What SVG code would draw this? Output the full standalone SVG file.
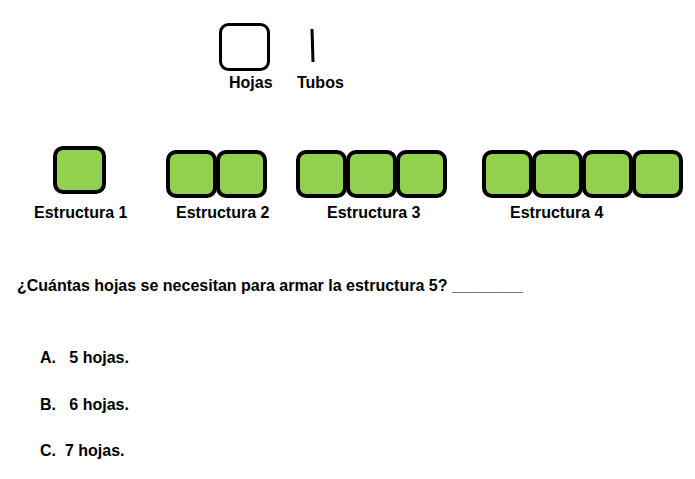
<svg xmlns="http://www.w3.org/2000/svg" width="695" height="479" viewBox="0 0 695 479">
<style>
text{font-family:"Liberation Sans",Arial,sans-serif;font-weight:bold;font-size:16px;fill:#000}
.leaf{fill:#92D050;stroke:#000;stroke-width:4}
</style>
<rect width="695" height="479" fill="#fff"/>
<g id="legend-hojas">
<rect x="220.5" y="24.5" width="48" height="45" rx="8" fill="#fff" stroke="#000" stroke-width="3"/>
<text x="229" y="88">Hojas</text>
</g>
<g id="legend-tubos">
<line x1="312" y1="29" x2="313" y2="62" stroke="#000" stroke-width="3"/>
<text x="297" y="88">Tubos</text>
</g>
<g id="estructura1">
<rect class="leaf" x="55" y="148" width="49" height="44" rx="8"/>
<text x="34" y="218">Estructura 1</text>
</g>
<g id="estructura2">
<rect class="leaf" x="168" y="152" width="47" height="44" rx="8"/>
<rect class="leaf" x="218" y="152" width="47" height="44" rx="8"/>
<text x="176" y="218">Estructura 2</text>
</g>
<g id="estructura3">
<rect class="leaf" x="298" y="152" width="47" height="44" rx="8"/>
<rect class="leaf" x="348" y="152" width="47" height="44" rx="8"/>
<rect class="leaf" x="398" y="152" width="47" height="44" rx="8"/>
<text x="327" y="218">Estructura 3</text>
</g>
<g id="estructura4">
<rect class="leaf" x="484" y="152" width="47" height="44" rx="8"/>
<rect class="leaf" x="534" y="152" width="47" height="44" rx="8"/>
<rect class="leaf" x="584" y="152" width="47" height="44" rx="8"/>
<rect class="leaf" x="634" y="152" width="47" height="44" rx="8"/>
<text x="510" y="218">Estructura 4</text>
</g>
<g id="pregunta">
<text x="17" y="291">¿Cuántas hojas se necesitan para armar la estructura 5? ________</text>
</g>
<g id="opciones">
<text x="40" y="363" xml:space="preserve">A.   5 hojas.</text>
<text x="40" y="410" xml:space="preserve">B.   6 hojas.</text>
<text x="40" y="456" xml:space="preserve">C.  7 hojas.</text>
</g>
</svg>
